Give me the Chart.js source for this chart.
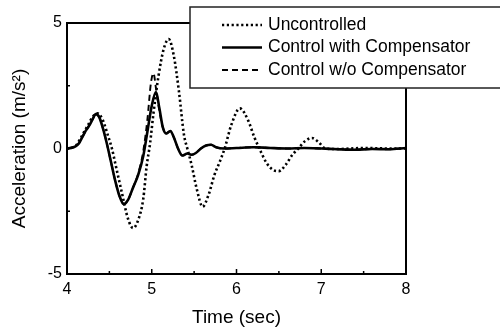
<!DOCTYPE html>
<html>
<head>
<meta charset="utf-8">
<script src="https://cdn.jsdelivr.net/npm/chart.js@4.4.0/dist/chart.umd.min.js"></script>
<style>
html,body{margin:0;padding:0;background:#fff;}
#wrap{width:500px;height:331px;position:relative;}
</style>
</head>
<body>
<div id="wrap"><canvas id="c" width="500" height="331"></canvas></div>
<script>
// ---- data ----
const seriesNames = ["Uncontrolled", "Control with Compensator", "Control w/o Compensator"];

const uncT = [4.00,4.05,4.10,4.15,4.20,4.25,4.30,4.36,4.42,4.48,4.53,4.57,4.65,4.72,4.78,4.84,4.90,4.94,4.98,5.02,5.08,5.14,5.20,5.26,5.32,5.38,5.42,5.47,5.53,5.60,5.67,5.74,5.80,5.86,5.94,6.04,6.14,6.21,6.27,6.35,6.43,6.50,6.58,6.66,6.73,6.81,6.89,6.97,7.05,7.20,7.50,7.80,8.00];
const uncV = [0.00,0.02,0.10,0.35,0.65,0.95,1.25,1.40,1.15,0.55,0.00,-0.60,-1.80,-2.80,-3.17,-2.85,-2.00,-0.70,0.20,1.40,2.90,3.95,4.36,3.70,2.30,0.55,0.00,-0.65,-1.60,-2.32,-1.85,-1.05,-0.55,0.00,0.95,1.60,1.10,0.45,0.00,-0.55,-0.85,-0.90,-0.65,-0.25,0.00,0.30,0.42,0.25,0.00,-0.02,0.02,0.00,0.00];

const comT = [4.00,4.05,4.10,4.14,4.18,4.22,4.26,4.30,4.34,4.38,4.42,4.47,4.52,4.57,4.62,4.67,4.72,4.78,4.84,4.90,4.95,5.00,5.05,5.09,5.13,5.17,5.22,5.26,5.31,5.36,5.42,5.47,5.52,5.58,5.64,5.70,5.76,5.85,6.00,6.20,6.40,6.60,6.80,7.00,7.20,7.40,7.60,7.80,8.00];
const comV = [0.00,0.03,0.08,0.20,0.45,0.70,0.90,1.15,1.37,1.25,0.85,0.20,-0.55,-1.30,-1.90,-2.22,-2.05,-1.55,-1.05,-0.30,0.70,1.70,2.25,1.60,0.85,0.60,0.70,0.45,0.00,-0.28,-0.20,-0.25,-0.18,0.00,0.12,0.15,0.05,0.00,0.02,0.05,0.02,0.00,0.02,0.00,-0.03,-0.05,-0.02,-0.03,0.02];

const noT = [4.00,4.05,4.10,4.14,4.18,4.22,4.26,4.30,4.34,4.38,4.42,4.47,4.52,4.57,4.62,4.67,4.72,4.78,4.84,4.90,4.95,4.99,5.02,5.05,5.09,5.13,5.17,5.22,5.26,5.31,5.36,5.42,5.47,5.52,5.58,5.64,5.70,5.76,5.85,6.00,6.20,6.40,6.60,6.80,7.00,7.20,7.40,7.60,7.80,8.00];
const noV = [0.00,0.03,0.10,0.22,0.45,0.70,0.92,1.15,1.37,1.25,0.85,0.20,-0.55,-1.30,-1.90,-2.20,-2.05,-1.55,-1.00,-0.10,1.20,2.60,3.00,2.40,1.50,0.85,0.60,0.70,0.45,0.00,-0.28,-0.20,-0.25,-0.18,0.00,0.12,0.15,0.05,0.00,0.02,0.05,0.02,0.00,0.02,0.00,-0.03,-0.05,-0.02,-0.03,0.02];

const xTicks = [4,5,6,7,8];
const yTicks = [-5,0,5];
const xTitle = "Time (sec)";
const yTitle = "Acceleration (m/s\u00B2)";

const FONT = "'Liberation Sans', Arial, Helvetica, sans-serif";

function pts(t, v){ return t.map((x,i)=>({x:x, y:v[i]})); }

const styles = [
  {borderDash:[2.2,2.6], borderWidth:2.6, order:3},
  {borderDash:[], borderWidth:2.6, order:1},
  {borderDash:[6,4], borderWidth:1.9, order:2}
];

const frame = {
  id:'frame',
  afterDatasetsDraw(chart){
    const {ctx, chartArea:a, scales:{x, y}} = chart;
    ctx.save();
    ctx.strokeStyle = '#000';
    ctx.lineWidth = 2;
    ctx.beginPath();
    ctx.moveTo(a.left, a.top); ctx.lineTo(a.right, a.top);
    ctx.moveTo(a.right, a.top); ctx.lineTo(a.right, a.bottom);
    ctx.stroke();
    // inside ticks
    ctx.lineWidth = 1.5;
    ctx.beginPath();
    for (let t = 4.5; t < 8; t += 0.5) {
      const px = x.getPixelForValue(t);
      const len = (Math.abs(t - Math.round(t)) < 1e-6) ? 5 : 3;
      ctx.moveTo(px, a.bottom); ctx.lineTo(px, a.bottom - len);
    }
    for (const v of [-2.5, 0, 2.5]) {
      const py = y.getPixelForValue(v);
      const len = v === 0 ? 5 : 3;
      ctx.moveTo(a.left, py); ctx.lineTo(a.left + len, py);
    }
    ctx.stroke();
    ctx.restore();
  },
  afterDraw(chart){
    const ctx = chart.ctx;
    const bx = 190, by = 7, bw = 330, bh = 81;
    ctx.save();
    ctx.fillStyle = '#fff';
    ctx.fillRect(bx, by, bw, bh);
    ctx.strokeStyle = '#222';
    ctx.lineWidth = 1.5;
    ctx.strokeRect(bx, by, bw, bh);
    const rows = [25, 47.5, 70];
    ctx.font = "17.5px " + FONT;
    ctx.textBaseline = 'middle';
    ctx.fillStyle = '#000';
    chart.data.datasets.forEach((ds, i) => {
      ctx.beginPath();
      ctx.setLineDash(ds.borderDash || []);
      ctx.lineWidth = ds.borderWidth;
      ctx.strokeStyle = '#000';
      ctx.moveTo(222, rows[i]); ctx.lineTo(262, rows[i]);
      ctx.stroke();
      ctx.setLineDash([]);
      ctx.fillText(ds.label, 268, rows[i]);
    });
    ctx.restore();
  }
};

new Chart(document.getElementById('c'), {
  type: 'line',
  data: {
    datasets: seriesNames.map((n, i) => ({
      label: n,
      data: pts([uncT, comT, noT][i], [uncV, comV, noV][i]),
      borderColor: '#000',
      backgroundColor: '#000',
      borderWidth: styles[i].borderWidth,
      borderDash: styles[i].borderDash,
      order: styles[i].order,
      pointRadius: 0,
      fill: false,
      cubicInterpolationMode: 'monotone'
    }))
  },
  options: {
    responsive: false,
    animation: false,
    devicePixelRatio: 1,
    layout: {padding: {left: 0, top: 23, right: 94, bottom: 0}},
    plugins: {legend: {display: false}, tooltip: {enabled: false}},
    scales: {
      x: {
        type: 'linear', min: 4, max: 8,
        afterFit(s){ s.height = 57; },
        afterBuildTicks(s){ s.ticks = xTicks.map(v => ({value: v})); },
        ticks: {padding: 6, color: '#000', font: {family: FONT, size: 16}, callback: v => String(v)},
        grid: {display: false, drawTicks: false},
        border: {display: true, color: '#000', width: 2},
        title: {display: true, text: xTitle, color: '#000', font: {family: FONT, size: 19}, padding: {top: 0, bottom: 2}}
      },
      y: {
        type: 'linear', min: -5, max: 5,
        afterFit(s){ s.width = 67; },
        afterBuildTicks(s){ s.ticks = yTicks.map(v => ({value: v})); },
        ticks: {padding: 5, color: '#000', font: {family: FONT, size: 16}, callback: v => String(v)},
        grid: {display: false, drawTicks: false},
        border: {display: true, color: '#000', width: 2},
        title: {display: true, text: yTitle, color: '#000', font: {family: FONT, size: 19}, padding: {top: 8, bottom: 0}}
      }
    }
  },
  plugins: [frame]
});
</script>
</body>
</html>
